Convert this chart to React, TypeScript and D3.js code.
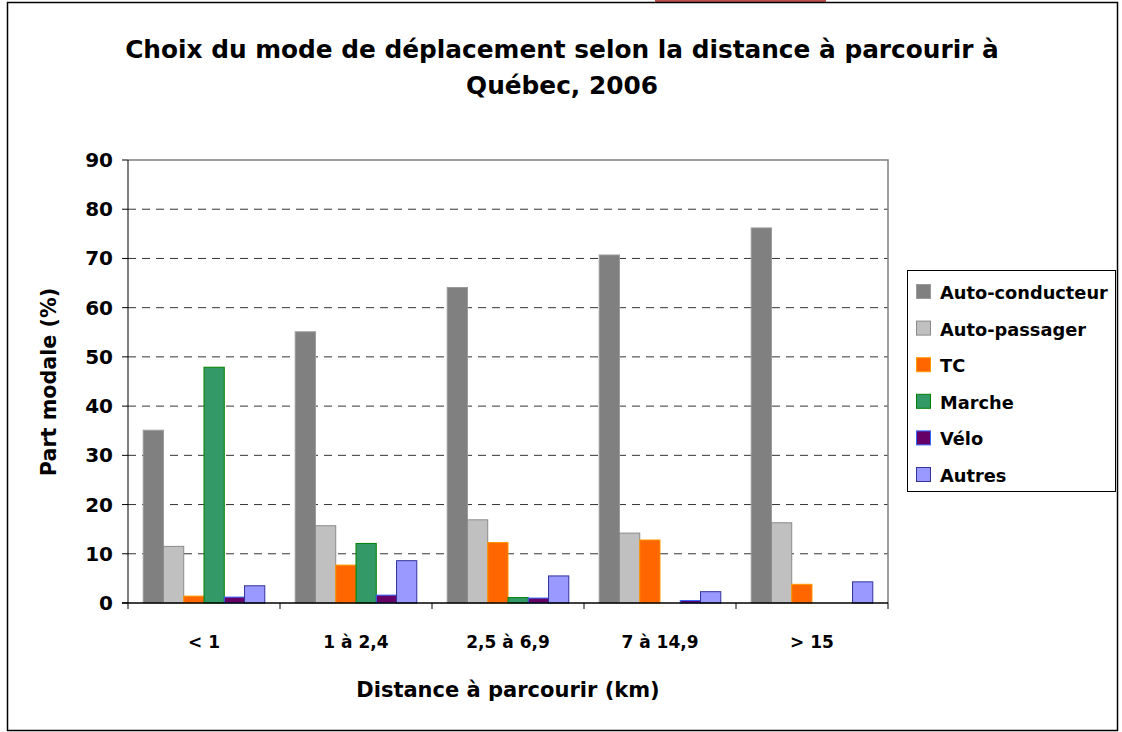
import React from "react";
import * as d3 from "d3";

const categories = ["< 1", "1 à 2,4", "2,5 à 6,9", "7 à 14,9", "> 15"];
const seriesNames = ["Auto-conducteur", "Auto-passager", "TC", "Marche", "Vélo", "Autres"];
const autoConducteur = [35.1, 55.1, 64.1, 70.7, 76.2];
const autoPassager = [11.5, 15.7, 16.9, 14.2, 16.3];
const tc = [1.4, 7.7, 12.3, 12.8, 3.8];
const marche = [47.9, 12.1, 1.1, 0, 0];
const velo = [1.2, 1.6, 1.0, 0.5, 0];
const autres = [3.5, 8.6, 5.5, 2.3, 4.3];
const yTicks = [0, 10, 20, 30, 40, 50, 60, 70, 80, 90];

const seriesValues = [autoConducteur, autoPassager, tc, marche, velo, autres];
const fills = ["#808080", "#C0C0C0", "#FF6600", "#339966", "#660066", "#9999FF"];
const strokes = ["#9a9a9a", "#8a8a8a", "#FF9900", "#008000", "#3366FF", "#333399"];

const FONT = "'DejaVu Sans', sans-serif";

export default function App() {
  const W = 1122;
  const H = 732;
  const plot = { left: 128, right: 888, top: 160, bottom: 603 };

  const x = d3.scaleBand<string>()
    .domain(categories)
    .range([plot.left, plot.right])
    .paddingInner(0.2)
    .paddingOuter(0.1);
  const inner = d3.scaleBand<string>()
    .domain(seriesNames)
    .range([0, x.bandwidth()]);
  const y = d3.scaleLinear().domain([0, 90]).range([plot.bottom, plot.top]);

  const step = x.step();
  const boundaries = d3.range(categories.length + 1).map((i) => plot.left + i * step);

  return (
    <svg width={W} height={H} style={{ position: "absolute", left: 0, top: 0 }}>
      <rect x={0} y={0} width={W} height={H} fill="#fff" />
      <rect x={655} y={0} width={171} height={2} fill="#c0504d" />
      <rect x={7.5} y={2.5} width={1110} height={728} fill="none" stroke="#000" strokeWidth={1.5} />

      <text x={562} y={58} textAnchor="middle" fontFamily={FONT} fontWeight={700} fontSize={24.8}>
        Choix du mode de déplacement selon la distance à parcourir à
      </text>
      <text x={562} y={94} textAnchor="middle" fontFamily={FONT} fontWeight={700} fontSize={24.8}>
        Québec, 2006
      </text>

      {/* gridlines */}
      {yTicks.filter((t) => t > 0 && t < 90).map((t) => (
        <line key={t} x1={plot.left} x2={plot.right} y1={y(t)} y2={y(t)}
          stroke="#333" strokeDasharray="8,6" strokeWidth={1} />
      ))}
      <polyline
        points={`${plot.left},${plot.top} ${plot.right},${plot.top} ${plot.right},${plot.bottom}`}
        fill="none" stroke="#808080" strokeWidth={1.5} />

      {/* bars */}
      {seriesValues.map((vals, si) => (
        <g key={si}>
          {vals.map((v, ci) => {
            if (v <= 0) return null;
            const bx = (x(categories[ci]) ?? 0) + (inner(seriesNames[si]) ?? 0);
            return (
              <rect key={ci} x={bx} y={y(v)} width={inner.bandwidth()} height={y(0) - y(v)}
                fill={fills[si]} stroke={strokes[si]} strokeWidth={1} />
            );
          })}
        </g>
      ))}

      {/* axes */}
      <line x1={plot.left} x2={plot.left} y1={plot.top} y2={plot.bottom} stroke="#000" />
      {yTicks.map((t) => (
        <g key={t}>
          <line x1={plot.left - 6} x2={plot.left} y1={y(t)} y2={y(t)} stroke="#000" />
          <text x={113} y={y(t) + 7} textAnchor="end" fontFamily={FONT} fontWeight={700} fontSize={20}>
            {t}
          </text>
        </g>
      ))}
      <line x1={plot.left - 6} x2={plot.right} y1={plot.bottom} y2={plot.bottom} stroke="#000" strokeWidth={1.5} />
      {boundaries.map((bx, i) => (
        <line key={i} x1={bx} x2={bx} y1={plot.bottom} y2={plot.bottom + 6} stroke="#000" />
      ))}
      {categories.map((c) => (
        <text key={c} x={(x(c) ?? 0) + x.bandwidth() / 2} y={648} textAnchor="middle"
          fontFamily={FONT} fontWeight={700} fontSize={17}>
          {c}
        </text>
      ))}

      <text x={508} y={697} textAnchor="middle" fontFamily={FONT} fontWeight={700} fontSize={21}>
        Distance à parcourir (km)
      </text>
      <text transform="translate(56,382) rotate(-90)" textAnchor="middle" fontFamily={FONT} fontWeight={700} fontSize={20.7}>
        Part modale (%)
      </text>

      {/* legend */}
      <rect x={907.5} y={270.5} width={208} height={221} fill="#fff" stroke="#000" strokeWidth={1} />
      {seriesNames.map((s, i) => {
        const ly = 292 + i * 36.6;
        return (
          <g key={s}>
            <rect x={916.5} y={ly - 7.5} width={14} height={14} fill={fills[i]} stroke={strokes[i]} />
            <text x={940} y={ly + 7} fontFamily={FONT} fontWeight={700} fontSize={17.8}>{s}</text>
          </g>
        );
      })}
    </svg>
  );
}
